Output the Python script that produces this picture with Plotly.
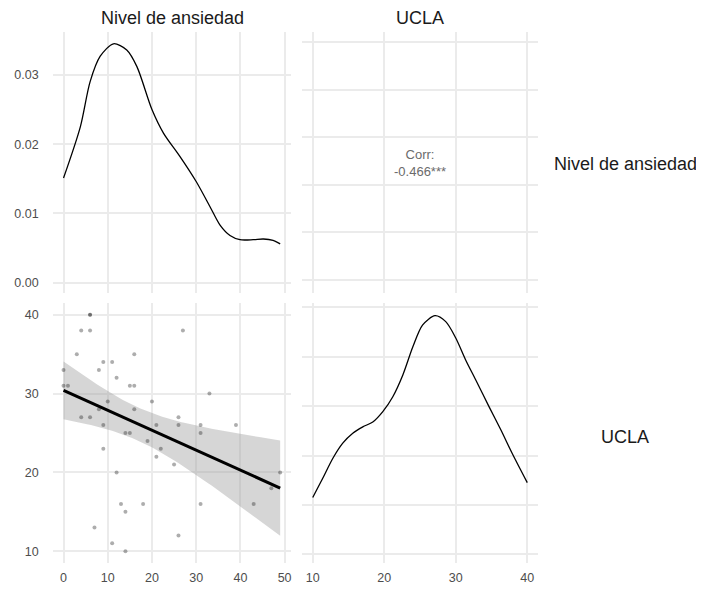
import numpy as np
import plotly.graph_objects as go

# ---- data ----
ansiedad = [6, 6, 4, 6, 27, 3, 16, 9, 11, 0, 8, 12, 0, 1, 15, 16, 33, 10, 20, 8, 16,
            4, 6, 26, 9, 21, 26, 31, 39, 14, 15, 31, 19, 9, 22, 21, 25, 12, 49, 47,
            13, 18, 31, 43, 14, 7, 26, 11, 14]
ucla = [40, 40, 38, 38, 38, 35, 35, 34, 34, 33, 33, 32, 31, 31, 31, 31, 30, 29, 29, 28, 28,
        27, 27, 27, 26, 26, 26, 26, 26, 25, 25, 25, 24, 23, 23, 22, 21, 20, 20, 18,
        16, 16, 16, 16, 15, 13, 12, 11, 10]

dens_anx_x = [0, 3.8, 6.0, 8.3, 11.3, 14.3, 16.6, 20.0, 22.6, 26.35, 30.0, 33.1, 35.4,
              37.65, 39.9, 42.9, 45.2, 47.4, 49]
dens_anx_y = [0.0151, 0.0225, 0.0290, 0.0327, 0.0345, 0.0336, 0.0312, 0.0250, 0.0216,
              0.0182, 0.0146, 0.0110, 0.0083, 0.0068, 0.0062, 0.0062, 0.0063, 0.0061, 0.0056]

dens_ucla_x = [10, 11.4, 12.8, 14.2, 15.6, 17.0, 18.4, 19.8, 21.2, 22.6, 24.0, 25.35, 27.1,
               28.6, 30.0, 31.4, 32.8, 34.65, 36.3, 37.9, 40]
dens_ucla_y = [0.0115, 0.0154, 0.0194, 0.0225, 0.0245, 0.0258, 0.0268, 0.0289, 0.0319,
               0.0363, 0.0420, 0.0464, 0.0483, 0.0471, 0.0438, 0.0393, 0.0353, 0.0299,
               0.0252, 0.0204, 0.0145]

corr_label = ["Corr:", "-0.466***"]
var_names = ["Nivel de ansiedad", "UCLA"]

# ---- linear fit with 95% CI (like geom_smooth(method="lm")) ----
x = np.array(ansiedad, float)
y = np.array(ucla, float)
n = len(x)
slope, intercept = np.polyfit(x, y, 1)
resid = y - (intercept + slope * x)
s = np.sqrt(np.sum(resid ** 2) / (n - 2))
sxx = np.sum((x - x.mean()) ** 2)
t_crit = 2.013
xf = np.linspace(x.min(), x.max(), 80)
yf = intercept + slope * xf
se = s * np.sqrt(1 / n + (xf - x.mean()) ** 2 / sxx)
upper = yf + t_crit * se
lower = yf - t_crit * se

# page body has an 8px margin; work in screen pixels and subtract it
OFF = 8
W, H = 704 - 2 * OFF, 594 - 2 * OFF
def px_x(a, b):
    return [(a - OFF) / W, (b - OFF) / W]
def px_y(top, bottom):
    return [1 - (bottom - OFF) / H, 1 - (top - OFF) / H]
def sx(p):
    return (p - OFF) / W
def sy(p):
    return 1 - (p - OFF) / H

col1 = px_x(52.7, 291)
col2 = px_x(302, 538)
row1 = px_y(32, 293)
row2 = px_y(303, 563)

grid = "#ebebeb"
tickfont = dict(family="Liberation Sans, Arial, sans-serif", size=12.5, color="#4d4d4d")

fig = go.Figure()

# top-left density
fig.add_trace(go.Scatter(x=dens_anx_x, y=dens_anx_y, mode="lines",
                         line=dict(color="black", width=1.3, shape="spline", smoothing=0.8),
                         xaxis="x", yaxis="y", showlegend=False, hoverinfo="skip"))
# bottom-left: band, points, line
fig.add_trace(go.Scatter(x=np.concatenate([xf, xf[::-1]]), y=np.concatenate([upper, lower[::-1]]),
                         fill="toself", fillcolor="rgba(153,153,153,0.4)", line=dict(width=0),
                         mode="lines", xaxis="x3", yaxis="y3", showlegend=False, hoverinfo="skip"))
fig.add_trace(go.Scatter(x=ansiedad, y=ucla, mode="markers",
                         marker=dict(color="rgba(0,0,0,0.32)", size=4, line=dict(width=0)),
                         xaxis="x3", yaxis="y3", showlegend=False))
fig.add_trace(go.Scatter(x=xf, y=yf, mode="lines", line=dict(color="black", width=3),
                         xaxis="x3", yaxis="y3", showlegend=False, hoverinfo="skip"))
# bottom-right density
fig.add_trace(go.Scatter(x=dens_ucla_x, y=dens_ucla_y, mode="lines",
                         line=dict(color="black", width=1.3, shape="spline", smoothing=0.8),
                         xaxis="x4", yaxis="y4", showlegend=False, hoverinfo="skip"))
# empty trace for top-right
fig.add_trace(go.Scatter(x=[None], y=[None], xaxis="x2", yaxis="y2", showlegend=False))

common = dict(showline=False, zeroline=False, gridcolor=grid, gridwidth=1.8, tickfont=tickfont,
              ticks="", automargin=False)
anx_range = [-2.45, 51.45]
ucla_range = [8.5, 41.5]

fig.update_layout(
    width=W, height=H, margin=dict(l=0, r=0, t=0, b=0),
    plot_bgcolor="white", paper_bgcolor="white",
    xaxis=dict(domain=col1, range=anx_range, dtick=10, tick0=0, showticklabels=False, anchor="y", **common),
    yaxis=dict(domain=row1, range=[-0.0015, 0.0362], dtick=0.01, tick0=0, tickformat=".2f",
               anchor="x", ticklabelstandoff=13, **common),
    xaxis2=dict(domain=col2, range=ucla_range, dtick=10, tick0=0, showticklabels=False, anchor="y2", **common),
    yaxis2=dict(domain=row1, range=[-0.273, 5.216], dtick=1, tick0=0, showticklabels=False, anchor="x2", **common),
    xaxis3=dict(domain=col1, range=anx_range, dtick=10, tick0=0, anchor="y3", ticklabelstandoff=5, **common),
    yaxis3=dict(domain=row2, range=ucla_range, dtick=10, tick0=0, anchor="x3", ticklabelstandoff=13, **common),
    xaxis4=dict(domain=col2, range=ucla_range, dtick=10, tick0=0, anchor="y4", ticklabelstandoff=5, **common),
    yaxis4=dict(domain=row2, range=[-0.00176, 0.05087], dtick=0.01, tick0=0, showticklabels=False, anchor="x4", **common),
)

strip_font = dict(family="Liberation Sans, Arial, sans-serif", size=18, color="#1a1a1a")
ann = [
    dict(text=var_names[0], x=sx(172), y=sy(18), xref="paper", yref="paper",
         showarrow=False, font=strip_font, xanchor="center", yanchor="middle"),
    dict(text=var_names[1], x=sx(420), y=sy(18), xref="paper", yref="paper",
         showarrow=False, font=strip_font, xanchor="center", yanchor="middle"),
    dict(text=var_names[0], x=sx(625), y=sy(164), xref="paper", yref="paper",
         showarrow=False, font=strip_font, xanchor="center", yanchor="middle"),
    dict(text=var_names[1], x=sx(625), y=sy(437), xref="paper", yref="paper",
         showarrow=False, font=strip_font, xanchor="center", yanchor="middle"),
    dict(text="<br>".join(corr_label), x=sx(420), y=sy(163), xref="paper", yref="paper",
         showarrow=False, font=dict(family="Liberation Sans, Arial, sans-serif", size=13, color="#6b6b6b"),
         xanchor="center", yanchor="middle", align="center"),
]
fig.update_layout(annotations=ann)

fig.write_html("out.html")
